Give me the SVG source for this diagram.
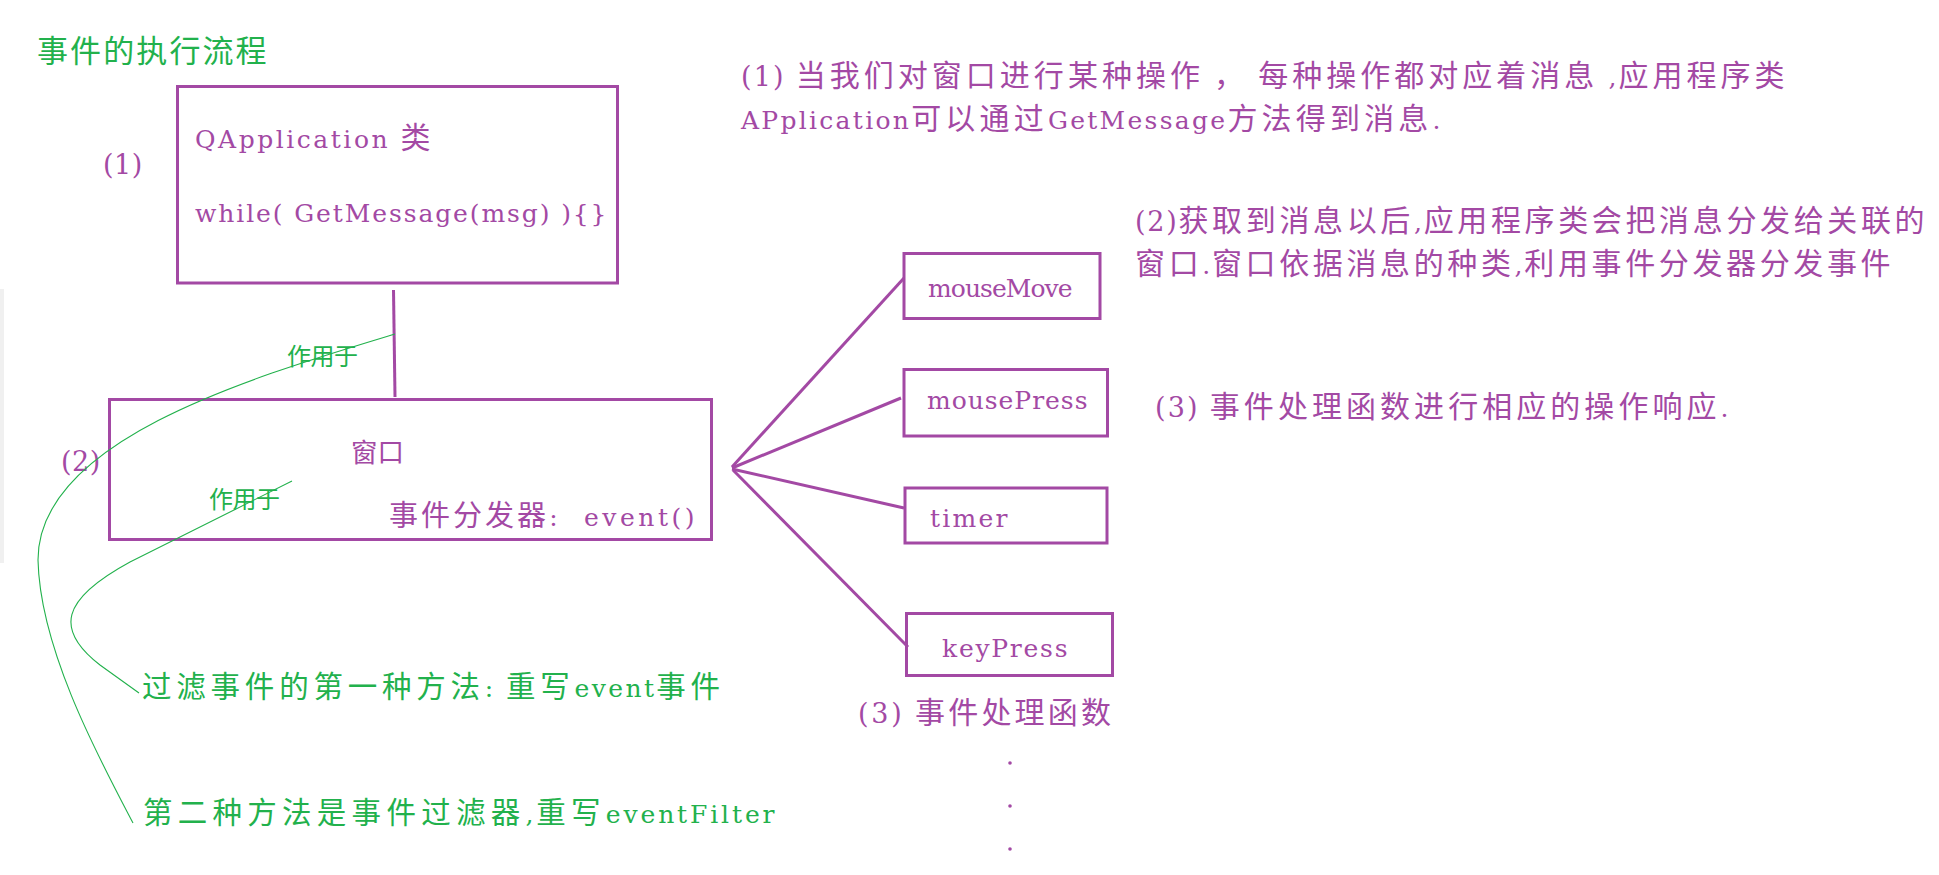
<svg xmlns="http://www.w3.org/2000/svg" width="1939" height="875" viewBox="0 0 1939 875">
<style>
.t{white-space:pre;font-family:"DejaVu Serif","Liberation Serif","Noto Sans CJK SC",serif;font-size:25px;letter-spacing:0.5px}
.c{font-family:"Noto Sans CJK SC",sans-serif;font-size:30px;letter-spacing:2.4px}
.f{font-size:29.5px;letter-spacing:2.9px}
.b{font-size:27px}
.p{fill:#A349A4}
.g{fill:#22B14C}
.box{fill:none;stroke:#A349A4;stroke-width:3}
.pl{fill:none;stroke:#A349A4;stroke-width:3}
.gl{fill:none;stroke:#22B14C;stroke-width:1.1}
</style>
<rect x="0" y="0" width="1939" height="875" fill="#ffffff"/>
<rect x="0" y="289" width="4" height="274" fill="#f0f0f0"/>

<g id="title">
<text class="t g" x="37" y="62" textLength="231" lengthAdjust="spacing"><tspan class="c" style="font-size:31px;letter-spacing:1.4px">事件的执行流程</tspan></text>
</g>

<g id="label-1">
<text class="t p b" x="103" y="174">(1)</text>
</g>

<g id="node-qapplication">
<rect class="box" x="177.5" y="86.5" width="440" height="196.5"/>
<text class="t p" x="195" y="148" textLength="238" lengthAdjust="spacing">QApplication <tspan class="c">类</tspan></text>
<text class="t p" x="195" y="222" textLength="412" lengthAdjust="spacing">while( GetMessage(msg) ){}</text>
</g>

<g id="label-2">
<text class="t p b" x="61" y="471">(2)</text>
</g>

<g id="node-window">
<rect class="box" x="109.5" y="399.5" width="602" height="140"/>
<text class="t p" x="351" y="462"><tspan class="c" style="font-size:26.5px;letter-spacing:0px">窗口</tspan></text>
<text class="t p" x="389" y="526" textLength="306" lengthAdjust="spacing"><tspan class="c" style="font-size:29px;letter-spacing:0px">事件分发器</tspan>:  event()</text>
</g>

<g id="node-mousemove">
<rect class="box" x="904" y="253.5" width="196" height="65"/>
<text class="t p" x="928" y="297" textLength="145" lengthAdjust="spacing">mouseMove</text>
</g>
<g id="node-mousepress">
<rect class="box" x="904" y="369.5" width="203.5" height="66.5"/>
<text class="t p" x="927" y="409" textLength="161" lengthAdjust="spacing">mousePress</text>
</g>
<g id="node-timer">
<rect class="box" x="905" y="488" width="202" height="55"/>
<text class="t p" x="930" y="527" textLength="78" lengthAdjust="spacing">timer</text>
</g>
<g id="node-keypress">
<rect class="box" x="906.5" y="613.5" width="206" height="62"/>
<text class="t p" x="942" y="657" textLength="126" lengthAdjust="spacing">keyPress</text>
</g>

<g id="label-handlers">
<text class="t p" x="858" y="723" textLength="254" lengthAdjust="spacing"><tspan class="b">(3)</tspan> <tspan class="c" style="letter-spacing:1px">事件处理函数</tspan></text>
<circle cx="1010" cy="763" r="1.8" fill="#A349A4"/>
<circle cx="1010" cy="806" r="1.8" fill="#A349A4"/>
<circle cx="1010" cy="849" r="1.8" fill="#A349A4"/>
</g>

<g id="connectors">
<line class="pl" x1="393.5" y1="290" x2="395" y2="397"/>
<line class="pl" x1="732" y1="467" x2="904" y2="278"/>
<line class="pl" x1="732" y1="468" x2="901" y2="398"/>
<line class="pl" x1="732" y1="469" x2="904" y2="508"/>
<line class="pl" x1="733" y1="470" x2="908" y2="647"/>
<path class="gl" d="M395,334 C250,378 38,440 38,560 C40,650 100,760 133,823"/>
<path class="gl" d="M292,481 L130,562 C60,600 55,630 100,665 L139,693"/>
</g>

<g id="label-acts-on-1">
<text class="t g" x="287" y="365"><tspan class="c" style="font-size:24px;letter-spacing:-0.5px">作用于</tspan></text>
</g>
<g id="label-acts-on-2">
<text class="t g" x="209" y="508"><tspan class="c" style="font-size:24px;letter-spacing:-0.5px">作用于</tspan></text>
</g>

<g id="note-filter-1">
<text class="t g" x="142" y="697" textLength="581" lengthAdjust="spacing"><tspan class="c f">过滤事件的第一种方法</tspan>: <tspan class="c f">重写</tspan>event<tspan class="c f">事件</tspan></text>
</g>
<g id="note-filter-2">
<text class="t g" x="143" y="823" textLength="632" lengthAdjust="spacing"><tspan class="c f">第二种方法是事件过滤器</tspan>,<tspan class="c f">重写</tspan>eventFilter</text>
</g>

<g id="note-1">
<text class="t p" x="741" y="86" textLength="1046" lengthAdjust="spacing"><tspan class="b">(1)</tspan> <tspan class="c">当我们对窗口进行某种操作</tspan> <tspan class="c">，</tspan> <tspan class="c">每种操作都对应着消息</tspan> ,<tspan class="c">应用程序类</tspan></text>
<text class="t p" x="741" y="129" textLength="700" lengthAdjust="spacing">APplication<tspan class="c">可以通过</tspan>GetMessage<tspan class="c">方法得到消息</tspan>.</text>
</g>
<g id="note-2">
<text class="t p" x="1135" y="231" textLength="792" lengthAdjust="spacing"><tspan class="b">(2)</tspan><tspan class="c">获取到消息以后</tspan>,<tspan class="c">应用程序类会把消息分发给关联的</tspan></text>
<text class="t p" x="1135" y="274" textLength="758" lengthAdjust="spacing"><tspan class="c">窗口</tspan>.<tspan class="c">窗口依据消息的种类</tspan>,<tspan class="c">利用事件分发器分发事件</tspan></text>
</g>
<g id="note-3">
<text class="t p" x="1155" y="417" textLength="574" lengthAdjust="spacing"><tspan class="b">(3)</tspan> <tspan class="c">事件处理函数进行相应的操作响应</tspan>.</text>
</g>
</svg>
